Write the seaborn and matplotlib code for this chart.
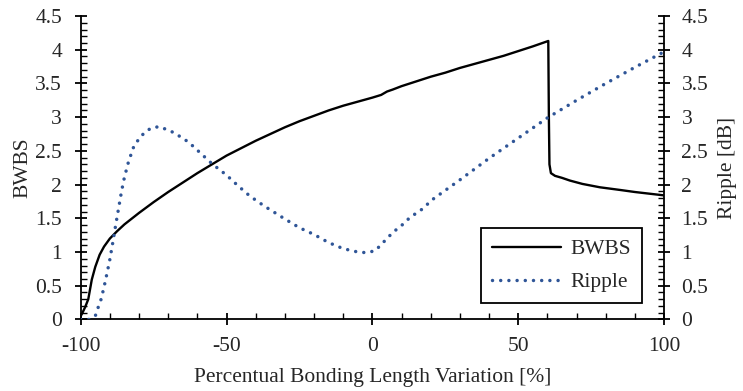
import matplotlib
matplotlib.use("Agg")
import matplotlib.pyplot as plt
import seaborn as sns
import pandas as pd
from matplotlib.ticker import MultipleLocator

# ---- data ----
bwbs_x = [-100, -99.5, -98.5, -97.4, -96.2, -95.0, -93.5, -92, -90, -87.5, -85, -80, -75, -70,
          -65, -60, -55, -50, -45, -40, -35, -30, -25, -20, -15, -10, -5, 0, 3, 5, 7, 10,
          15, 20, 25, 30, 35, 40, 45, 50, 55, 60.3, 60.5, 60.7, 61.2,
          62.6, 65, 67.7, 72, 78, 85, 90, 100]
bwbs_y = [0.05, 0.09, 0.18, 0.30, 0.59, 0.78, 0.96, 1.08, 1.20, 1.31, 1.41, 1.58, 1.74, 1.89,
          2.03, 2.17, 2.30, 2.43, 2.54, 2.65, 2.75, 2.85, 2.94, 3.02, 3.10, 3.17, 3.23, 3.29,
          3.33, 3.38, 3.41, 3.46, 3.53, 3.60, 3.66, 3.73, 3.79, 3.85, 3.91, 3.98, 4.05, 4.13,
          3.00, 2.30, 2.17, 2.13, 2.10, 2.06, 2.01, 1.96, 1.92, 1.89, 1.84]

ripple_x = [-100, -97, -95, -94, -93, -92, -91, -90, -89, -88, -87, -86, -85, -83.6,
            -81.6, -78.2, -75.8, -73, -68, -63, -59, -55, -50, -46, -42, -37, -30, -25,
            -20, -15, -10, -5, -2, 1, 3, 5, 7, 9, 11, 13, 16, 18, 20, 30, 40, 50, 60,
            70, 80, 90, 100]
ripple_y = [0.0, 0.0, 0.05, 0.18, 0.30, 0.48, 0.68, 0.89, 1.14, 1.40, 1.65, 1.90, 2.11, 2.34,
            2.59, 2.77, 2.84, 2.86, 2.77, 2.63, 2.47, 2.31, 2.14, 1.98, 1.83, 1.68, 1.49, 1.36,
            1.26, 1.14, 1.05, 1.00, 0.99, 1.02, 1.11, 1.20, 1.29, 1.36, 1.43, 1.52, 1.60, 1.67,
            1.76, 2.07, 2.39, 2.69, 2.99, 3.25, 3.50, 3.74, 3.97]

x_ticks = [-100, -50, 0, 50, 100]
y_ticks = [0, 0.5, 1, 1.5, 2, 2.5, 3, 3.5, 4, 4.5]
y_ticklabels = ["0", "0.5", "1", "1.5", "2", "2.5", "3", "3.5", "4", "4.5"]

df_b = pd.DataFrame({"x": bwbs_x, "y": bwbs_y})
df_r = pd.DataFrame({"x": ripple_x, "y": ripple_y})

sns.set_style("ticks")
plt.rcParams["font.family"] = ["Liberation Serif", "DejaVu Serif"]
FS = 15.5
plt.rcParams["font.size"] = FS

fig = plt.figure(figsize=(7.43, 3.91), dpi=100)
ax = fig.add_axes([0.1086, 0.183, 0.7852, 0.776])
ax2 = ax.twinx()

blue = "#2F5597"
sns.lineplot(data=df_b, x="x", y="y", ax=ax, color="black", linewidth=1.7,
             label="BWBS", legend=False, sort=False)
sns.lineplot(data=df_r, x="x", y="y", ax=ax2, color=blue, linewidth=2.5,
             label="Ripple", legend=False, sort=False,
             linestyle=(0, (0.01, 2.35)))
for l in ax2.get_lines():
    l.set_dash_capstyle("round")

for a in (ax, ax2):
    a.set_xlim(-100, 100)
    a.set_ylim(0, 4.5)
    a.set_yticks(y_ticks)
    a.set_yticklabels(y_ticklabels)
    a.yaxis.set_minor_locator(MultipleLocator(0.1))
    for s in a.spines.values():
        s.set_visible(False)

ax.set_xticks(x_ticks)
ax.set_xticklabels([str(v) for v in x_ticks])
ax.xaxis.set_minor_locator(MultipleLocator(10))

ax.spines["left"].set_visible(True)
ax.spines["bottom"].set_visible(True)
ax2.spines["right"].set_visible(True)
for a, side in ((ax, "left"), (ax, "bottom"), (ax2, "right")):
    a.spines[side].set_color("black")
    a.spines[side].set_linewidth(1.3)

ax.tick_params(axis="both", which="major", direction="inout", length=9, width=1.3,
               color="black", labelsize=FS, pad=9)
ax.tick_params(axis="both", which="minor", direction="in", length=4, width=1.0, color="black")
ax.tick_params(axis="x", which="major", pad=8)
ax2.tick_params(axis="y", which="major", direction="inout", length=9, width=1.3,
                color="black", labelsize=FS, pad=8)
ax2.tick_params(axis="y", which="minor", direction="in", length=4, width=1.0, color="black")

ax.set_xlabel("Percentual Bonding Length Variation [%]", fontsize=FS, labelpad=9)
ax.set_ylabel("BWBS", fontsize=FS, labelpad=2)
ax2.set_ylabel("Ripple [dB]", fontsize=FS, labelpad=7)
ax.grid(False)
ax2.grid(False)

h1, l1 = ax.get_legend_handles_labels()
h2, l2 = ax2.get_legend_handles_labels()
leg = ax2.legend(h1 + h2, l1 + l2, loc="lower right", bbox_to_anchor=(0.962, 0.054),
                 frameon=True, fancybox=False, framealpha=1, edgecolor="black",
                 fontsize=FS, handlelength=3.2, handletextpad=0.45, borderpad=0.5,
                 labelspacing=0.6, borderaxespad=0)
leg.get_frame().set_linewidth(1.3)
leg._legend_box.align = "right"

fig.savefig("out.png", dpi=100)
